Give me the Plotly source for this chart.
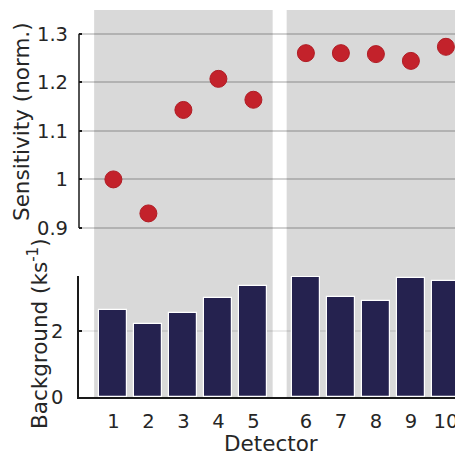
import plotly.graph_objects as go

detectors = ["1", "2", "3", "4", "5", "6", "7", "8", "9", "10"]
xpos = [1, 2, 3, 4, 5, 6.5, 7.5, 8.5, 9.5, 10.5]
sensitivity = [1.000, 0.930, 1.143, 1.207, 1.164, 1.260, 1.260, 1.258, 1.244, 1.273]
background = [2.64, 2.20, 2.55, 3.00, 3.36, 3.64, 3.03, 2.91, 3.61, 3.52]
sens_ticks = [0.9, 1.0, 1.1, 1.2, 1.3]
sens_ticktext = ["0.9", "1", "1.1", "1.2", "1.3"]
bg_ticks = [0, 2]
groups = [(0.45, 5.55), (5.95, 11.05)]

W, H = 455, 453
L = 79
FONT = "DejaVu Sans"
TXT = "#262626"
TICK = 19.5
TITLE = 21.5

def py(p):
    return 1 - p / H

fig = go.Figure()
fig.add_trace(go.Scatter(
    x=xpos, y=sensitivity, mode="markers", xaxis="x", yaxis="y",
    marker=dict(size=17, color="#c3222b", line=dict(color="#b01c24", width=1)),
    cliponaxis=False, showlegend=False))
fig.add_trace(go.Bar(
    x=xpos, y=background, xaxis="x", yaxis="y2", width=0.8,
    marker=dict(color="#25224f", line=dict(color="white", width=1.2)),
    showlegend=False))

shapes = []
for a, b in groups:
    shapes.append(dict(type="rect", xref="x", yref="paper", x0=a, x1=b,
                       y0=py(398), y1=py(10), fillcolor="#d9d9d9",
                       line=dict(width=0), layer="below"))
shapes.append(dict(type="line", xref="paper", yref="y", x0=0, x1=0,
                   y0=0.9, y1=1.3, line=dict(color="#1a1a1a", width=1.5)))

x_px_per = 35.0
x0 = 1 - (113.4 - L) / x_px_per
x1 = x0 + (W - L) / x_px_per

top_px_per = 485.7
top_hi = 1.3 + (33.7 - 10) / top_px_per
top_lo = 1.3 - (255 - 33.7) / top_px_per

fig.update_layout(
    template="none",
    width=W, height=H,
    margin=dict(l=L, r=0, t=0, b=0, autoexpand=False),
    paper_bgcolor="white", plot_bgcolor="rgba(0,0,0,0)",
    font=dict(family=FONT, size=TICK, color=TXT),
    shapes=shapes,
    bargap=0,
    showlegend=False,
    xaxis=dict(domain=[0, 1], anchor="y2", range=[x0, x1], automargin=False,
               tickvals=xpos, ticktext=detectors, showgrid=False,
               zeroline=False, showline=True, linecolor="#1a1a1a", linewidth=1.5,
               ticks="", ticklabelstandoff=6, ticklabeloverflow="allow",
               tickfont=dict(size=TICK, color=TXT)),
    yaxis=dict(domain=[py(255), py(10)], anchor="x", range=[top_lo, top_hi],
               automargin=False,
               tickvals=sens_ticks, ticktext=sens_ticktext,
               showgrid=True, gridcolor="rgba(0,0,0,0.18)", gridwidth=1.5,
               zeroline=False, showline=False, ticks="inside", ticklen=3,
               tickcolor="#1a1a1a", tickwidth=1.5, ticklabelstandoff=10,
               tickfont=dict(size=TICK, color=TXT)),
    yaxis2=dict(domain=[py(397), py(276)], anchor="x", range=[0, 121 / 33.0],
                automargin=False,
                tickvals=bg_ticks, showgrid=True, gridcolor="rgba(0,0,0,0.08)",
                gridwidth=1.5, zeroline=False, showline=True,
                linecolor="#1a1a1a", linewidth=1.5, ticks="inside", ticklen=3,
                tickcolor="#1a1a1a", tickwidth=1.5, ticklabelstandoff=10,
                tickfont=dict(size=TICK, color=TXT)),
    annotations=[
        dict(text="Sensitivity (norm.)", xref="paper", yref="paper",
             x=(21 - L) / (W - L), y=py(122), textangle=-90, showarrow=False,
             xanchor="center", yanchor="middle", font=dict(size=TITLE, color=TXT)),
        dict(text="Background (ks<sup>-1</sup>)", xref="paper", yref="paper",
             x=(38 - L) / (W - L), y=py(334), textangle=-90, showarrow=False,
             xanchor="center", yanchor="middle", font=dict(size=TITLE, color=TXT)),
        dict(text="Detector", xref="paper", yref="paper",
             x=(271 - L) / (W - L), y=py(443), showarrow=False,
             xanchor="center", yanchor="middle", font=dict(size=TITLE, color=TXT)),
    ],
)

fig.write_html("out.html")
